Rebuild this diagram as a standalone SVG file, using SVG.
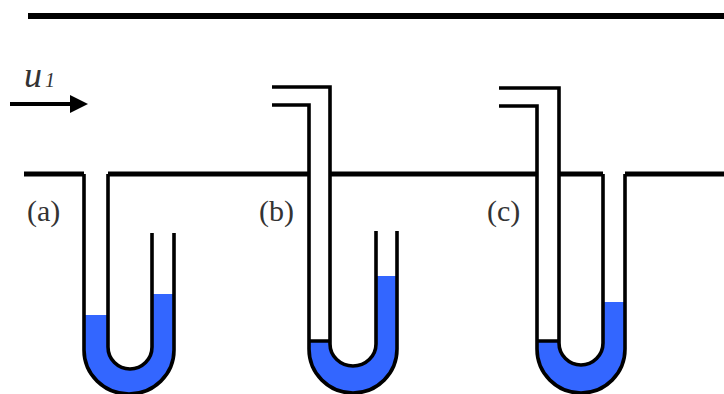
<svg xmlns="http://www.w3.org/2000/svg" width="724" height="394" viewBox="0 0 724 394">
<style>
.wall{fill:none;stroke:#000;stroke-width:5}
.tube{fill:none;stroke:#000;stroke-width:3.6}
.fluid{fill:#3366ff;stroke:none}
.label{font-family:"Liberation Serif","Times New Roman",serif;font-size:30px;fill:#333}
.sym{font-family:"Liberation Serif","Times New Roman",serif;font-style:italic;fill:#333}
</style>
<rect width="724" height="394" fill="#fff"/>
<g id="channel">
<path d="M28 16H724" fill="none" stroke="#000" stroke-width="6"/>
<path class="wall" d="M24 174H84M108 174H309M330 174H537M559 174H603M625 174H724"/>
</g>
<g id="flow">
<path d="M10 104H72" fill="none" stroke="#000" stroke-width="4"/>
<path d="M70 95L88 104L70 113Z" fill="#000"/>
<text class="sym" x="24" y="87" font-size="36">u<tspan font-size="20" dx="3">1</tspan></text>
</g>
<g id="manometer-a">
<path class="fluid" d="M84 315H108V347A22 22 0 0 0 152 347V294H174V350A45 44 0 0 1 84 350Z"/>
<path class="tube" d="M84 174V350A45 44 0 0 0 174 350V233M108 174V347A22 22 0 0 0 152 347V233"/>
<text class="label" x="27" y="221">(a)</text>
</g>
<g id="manometer-b">
<path class="fluid" d="M309 342H330V344A23 22 0 0 0 376 344V276H397V349A44 44 0 0 1 309 349Z"/>
<path class="tube" d="M272 87H330V344A23 22 0 0 0 376 344V231M272 105H309V349A44 44 0 0 0 397 349V231M309 341H330"/>
<text class="label" x="259" y="221">(b)</text>
</g>
<g id="manometer-c">
<path class="fluid" d="M537 342H559V343A22 22 0 0 0 603 343V302H625V349A44 44 0 0 1 537 349Z"/>
<path class="tube" d="M499 88H559V343A22 22 0 0 0 603 343V174M499 106H537V349A44 44 0 0 0 625 349V174M537 341H559"/>
<text class="label" x="487" y="221">(c)</text>
</g>
</svg>
